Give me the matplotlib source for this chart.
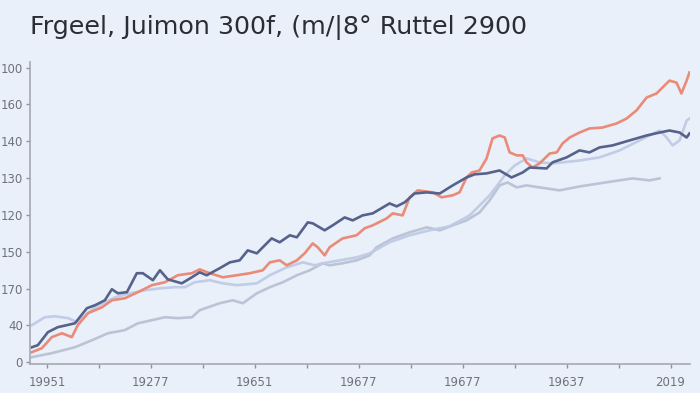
import matplotlib
matplotlib.use("Agg")
import matplotlib.pyplot as plt
from matplotlib.ticker import FixedLocator

title = "Frgeel, Juimon 300f, (m/|8\u00b0 Ruttel 2900"

y_ticks = [0, 20, 40, 60, 80, 100, 120, 140, 160]
y_labels = ['0', '40', '170', '150', '120', '130', '140', '160', '100']
x_major = [1995, 1999, 2003, 2007, 2011, 2015, 2019]
x_minor = [1997, 2001, 2005, 2009, 2013, 2017]
x_labels = ['19951', '19277', '19651', '19677', '19677', '19637', '2019']

navy_x = [1994.42, 1994.65, 1995.04, 1995.42, 1996.08, 1996.54, 1996.85, 1997.23, 1997.5, 1997.73,
          1998.08, 1998.46, 1998.69, 1999.08, 1999.35, 1999.65, 2000.19, 2000.58, 2000.88, 2001.15,
          2001.65, 2002.04, 2002.42, 2002.73, 2003.08, 2003.27, 2003.65, 2003.96, 2004.35, 2004.62,
          2005.04, 2005.23, 2005.69, 2006.0, 2006.46, 2006.77, 2007.15, 2007.54, 2008.19, 2008.46,
          2008.77, 2009.15, 2009.62, 2010.12, 2010.62, 2011.15, 2011.46, 2011.92, 2012.42, 2012.88,
          2013.31, 2013.58, 2014.23, 2014.46, 2015.0, 2015.5, 2015.88, 2016.27, 2016.77, 2017.42,
          2018.08, 2018.58, 2018.96, 2019.35, 2019.62, 2019.73]
navy_y = [8.1, 9.2, 16.3, 19.0, 21.1, 29.3, 30.9, 33.6, 39.6, 37.4,
          38.0, 48.3, 48.3, 44.5, 49.9, 45.0, 42.8, 46.1, 48.8, 47.2,
          51.0, 54.2, 55.3, 60.7, 59.1, 61.8, 67.2, 65.1, 68.9, 67.8,
          75.9, 75.4, 71.6, 74.3, 78.6, 77.0, 79.7, 80.8, 86.2, 84.6,
          86.8, 91.6, 92.2, 91.6, 96.0, 100.3, 102.0, 102.5, 104.1, 100.3,
          103.0, 105.7, 105.2, 108.5, 111.2, 115.0, 113.9, 116.6, 117.7, 120.4,
          123.1, 124.7, 125.8, 124.7, 122.0, 124.2]

red_x = [1994.42, 1994.81, 1995.19, 1995.58, 1995.96, 1996.19, 1996.58, 1997.12, 1997.5, 1998.0,
         1998.5, 1999.04, 1999.54, 2000.04, 2000.58, 2000.88, 2001.27, 2001.77, 2002.31, 2002.81,
         2003.31, 2003.58, 2003.96, 2004.23, 2004.62, 2004.92, 2005.23, 2005.42, 2005.69, 2005.88,
         2006.38, 2006.92, 2007.23, 2007.54, 2008.08, 2008.31, 2008.69, 2008.96, 2009.27, 2009.85,
         2010.19, 2010.62, 2010.88, 2011.15, 2011.35, 2011.65, 2011.92, 2012.15, 2012.42, 2012.62,
         2012.81, 2013.08, 2013.31, 2013.46, 2013.69, 2013.96, 2014.35, 2014.62, 2014.85, 2015.12,
         2015.5, 2015.88, 2016.38, 2016.92, 2017.31, 2017.69, 2018.08, 2018.46, 2018.69, 2018.96,
         2019.23, 2019.42, 2019.62, 2019.73]
red_y = [5.4, 7.6, 13.6, 15.7, 13.6, 20.1, 26.6, 29.8, 33.6, 34.7,
         38.0, 41.8, 43.4, 47.2, 48.3, 50.4, 48.3, 46.1, 47.2, 48.3,
         49.9, 54.2, 55.3, 52.6, 55.3, 59.1, 64.5, 62.4, 58.0, 62.4,
         67.2, 68.9, 72.7, 74.3, 78.1, 80.8, 79.7, 89.5, 93.3, 92.2,
         89.5, 90.6, 92.2, 100.3, 103.0, 104.1, 110.6, 121.5, 123.1, 122.0,
         113.9, 112.3, 112.3, 108.5, 105.7, 107.9, 113.3, 113.9, 118.8, 122.0,
         124.7, 126.9, 127.4, 129.6, 132.3, 136.7, 143.7, 145.9, 149.1, 152.9,
         151.8, 145.9, 152.9, 157.3]

pale_x = [1994.42, 1994.92, 1995.31, 1995.81, 1996.19, 1996.58, 1996.85, 1997.23, 1997.62, 1998.19,
          1998.77, 1999.35, 1999.92, 2000.31, 2000.69, 2001.27, 2001.77, 2002.31, 2003.08, 2003.58,
          2004.23, 2004.85, 2005.31, 2005.62, 2006.27, 2006.92, 2007.42, 2008.19, 2008.96, 2009.73,
          2010.5, 2011.27, 2012.04, 2012.62, 2013.0, 2013.46, 2013.96, 2014.46, 2015.5, 2016.27,
          2017.04, 2017.81, 2018.58, 2018.85, 2019.08, 2019.35, 2019.62, 2019.73]
pale_y = [20.1, 24.4, 24.9, 23.9, 21.7, 26.6, 29.8, 32.5, 35.2, 37.4,
          39.0, 40.1, 40.7, 40.7, 43.4, 44.5, 42.8, 41.8, 42.8, 47.2,
          51.5, 54.2, 52.6, 53.7, 55.3, 56.9, 59.1, 65.1, 68.9, 71.6,
          73.8, 79.7, 90.6, 101.4, 106.8, 110.6, 108.5, 107.9, 109.5, 111.2,
          115.0, 120.4, 125.8, 122.0, 117.7, 120.4, 131.2, 132.3]

grey_x = [1994.42, 1995.19, 1996.08, 1996.73, 1997.35, 1998.0, 1998.5, 1999.04, 1999.54, 2000.04,
          2000.58, 2000.88, 2001.65, 2002.15, 2002.54, 2003.08, 2003.58, 2004.08, 2004.62, 2005.12,
          2005.62, 2005.88, 2006.38, 2006.92, 2007.42, 2007.69, 2008.31, 2008.96, 2009.62, 2010.12,
          2010.62, 2011.15, 2011.65, 2012.04, 2012.42, 2012.73, 2013.08, 2013.46, 2013.96, 2014.73,
          2015.5, 2016.27, 2017.54, 2018.19, 2018.58]
grey_y = [2.7, 4.9, 8.1, 11.9, 15.7, 17.4, 21.1, 22.8, 24.4, 23.9,
          24.4, 28.2, 32.0, 33.6, 32.0, 37.4, 40.7, 43.4, 47.2, 49.9,
          53.7, 52.6, 53.7, 55.3, 58.0, 62.4, 67.2, 70.5, 73.2, 71.6,
          74.3, 77.0, 81.3, 87.9, 96.0, 97.6, 94.9, 96.0, 94.9, 93.3,
          95.4, 97.1, 99.8, 98.7, 99.8]

bg = "#e9f0f9"
fig = plt.figure(figsize=(7.0, 3.93), dpi=100, facecolor=bg)
ax = fig.add_axes([30/700, 1 - 364/393, 660/700, 302/393])
ax.set_facecolor(bg)

ax.plot(grey_x, grey_y, color="#b9c1d4", lw=1.9, solid_joinstyle="round", alpha=0.95)
ax.plot(pale_x, pale_y, color="#bfcbe6", lw=1.9, solid_joinstyle="round", alpha=0.95)
ax.plot(red_x, red_y, color="#ec8a78", lw=1.9, solid_joinstyle="round")
ax.plot(navy_x, navy_y, color="#56628b", lw=1.9, solid_joinstyle="round")

ax.set_xlim(1994.35, 2019.75)
ax.set_ylim(-1, 163)

ax.set_yticks(y_ticks)
ax.set_yticklabels(y_labels)
ax.xaxis.set_major_locator(FixedLocator(x_major))
ax.xaxis.set_minor_locator(FixedLocator(x_minor))
ax.set_xticklabels(x_labels)

for s in ["top", "right"]:
    ax.spines[s].set_visible(False)
for s in ["left", "bottom"]:
    ax.spines[s].set_color("#a4a9b3")
    ax.spines[s].set_linewidth(1.2)

ax.tick_params(axis="both", which="both", colors="#8d929c", length=3, width=1,
               labelcolor="#6e727a", labelsize=8.5)
ax.tick_params(axis="y", pad=2)
ax.tick_params(axis="x", pad=6)

fig.text(30/700, 1 - 28/393, title, fontsize=18.3, color="#2a2d33", va="center", ha="left",
         family="DejaVu Sans")

fig.savefig("out.png", dpi=100, facecolor=bg)
